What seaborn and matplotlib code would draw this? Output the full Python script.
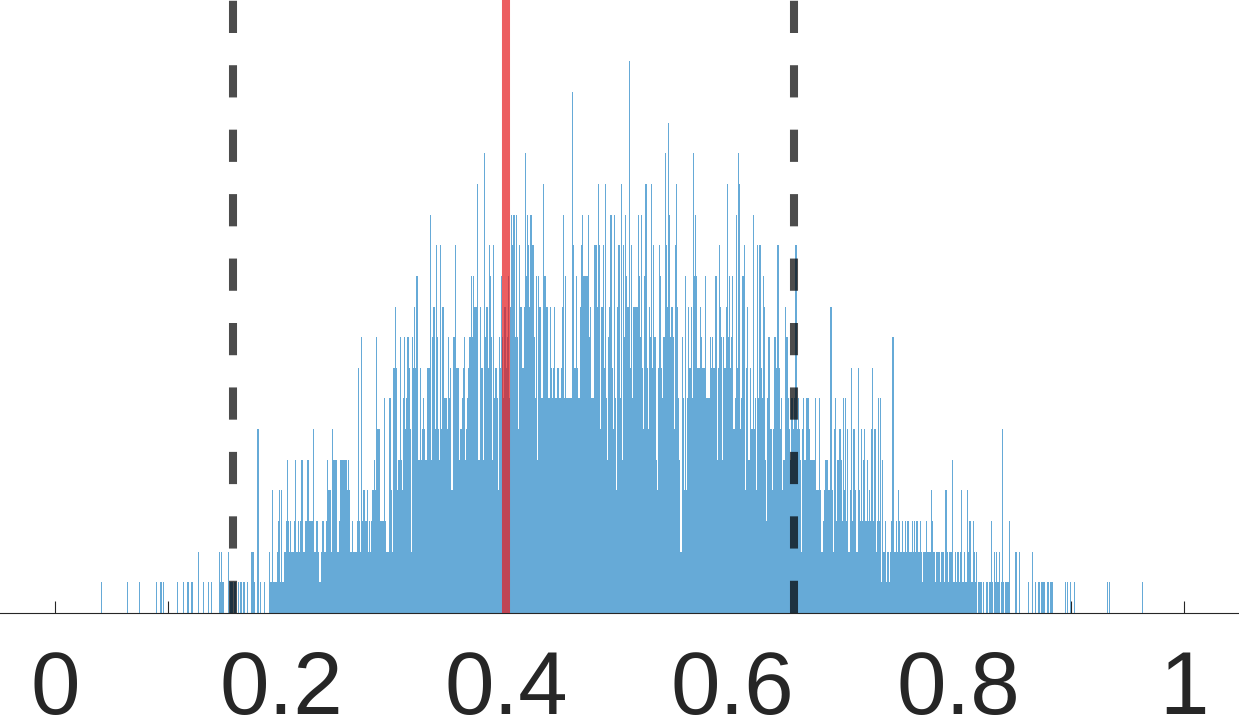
import numpy as np
import pandas as pd
import matplotlib
matplotlib.use("Agg")
import matplotlib.pyplot as plt
import seaborn as sns

# histogram counts, one value per 0.001-wide bin, split in 0.1 blocks
counts_00 = [0, 0, 0, 0, 0, 0, 0, 0, 0, 0, 0, 0, 0, 0, 0, 0, 0, 0, 0, 0,
             0, 0, 0, 0, 0, 0, 0, 0, 0, 0, 0, 0, 0, 0, 0, 0, 0, 0, 0, 0,
             1, 0, 0, 0, 0, 0, 0, 0, 0, 0, 0, 0, 0, 0, 0, 0, 0, 0, 0, 0,
             0, 0, 0, 1, 0, 0, 0, 0, 0, 0, 0, 0, 0, 0, 1, 0, 0, 0, 0, 0,
             0, 0, 0, 0, 0, 0, 0, 0, 0, 1, 0, 0, 0, 1, 0, 1, 0, 0, 0, 0]
counts_01 = [0, 0, 0, 0, 0, 0, 0, 0, 1, 0, 0, 0, 0, 1, 0, 0, 0, 1, 0, 0,
             1, 1, 0, 0, 0, 0, 2, 0, 0, 0, 0, 1, 0, 0, 0, 1, 0, 0, 1, 0,
             0, 0, 0, 0, 0, 2, 1, 2, 1, 0, 0, 0, 0, 2, 0, 1, 1, 0, 1, 1,
             0, 0, 1, 0, 1, 0, 1, 1, 0, 0, 1, 0, 0, 2, 2, 2, 1, 0, 0, 6,
             0, 1, 0, 0, 0, 1, 0, 0, 0, 2, 1, 1, 4, 1, 1, 1, 2, 3, 4, 1]
counts_02 = [4, 1, 1, 2, 3, 5, 3, 2, 3, 2, 2, 3, 5, 2, 2, 3, 2, 3, 5, 2,
             2, 3, 3, 5, 5, 3, 3, 3, 6, 2, 2, 3, 3, 2, 1, 2, 3, 3, 2, 2,
             3, 5, 4, 4, 2, 6, 5, 5, 5, 5, 2, 3, 5, 5, 5, 5, 5, 5, 4, 5,
             4, 2, 2, 3, 2, 2, 2, 3, 8, 3, 2, 9, 3, 4, 3, 3, 4, 2, 3, 2,
             3, 4, 5, 4, 9, 6, 6, 6, 3, 3, 3, 7, 3, 2, 2, 2, 7, 4, 2, 8]
counts_03 = [8, 10, 8, 4, 5, 9, 5, 4, 7, 9, 6, 7, 9, 8, 6, 2, 9, 8, 10, 8,
             11, 5, 5, 8, 5, 6, 7, 6, 5, 8, 8, 8, 13, 5, 9, 10, 6, 12, 9, 6,
             5, 12, 6, 10, 7, 7, 7, 6, 9, 7, 8, 4, 9, 9, 12, 8, 8, 8, 5, 6,
             7, 8, 9, 5, 6, 7, 8, 9, 11, 9, 11, 10, 10, 10, 14, 5, 10, 8, 8, 5,
             15, 9, 10, 8, 12, 11, 9, 5, 12, 7, 8, 7, 4, 9, 8, 11, 9, 7, 10, 8]
counts_04 = [9, 11, 7, 10, 13, 12, 13, 9, 13, 9, 6, 12, 10, 10, 8, 10, 15, 11, 13, 12,
             10, 13, 12, 12, 9, 7, 11, 5, 11, 10, 7, 7, 14, 11, 11, 10, 10, 7, 10, 8,
             7, 8, 10, 7, 7, 8, 7, 7, 8, 10, 13, 7, 11, 7, 7, 7, 7, 7, 17, 12,
             8, 11, 8, 7, 7, 10, 12, 13, 11, 11, 11, 11, 13, 9, 10, 7, 7, 12, 12, 12,
             10, 14, 12, 6, 10, 12, 8, 14, 7, 5, 9, 10, 13, 8, 6, 13, 7, 4, 10, 12]
counts_05 = [7, 14, 5, 12, 9, 13, 11, 10, 18, 8, 12, 7, 10, 10, 10, 10, 13, 11, 9, 13,
             8, 6, 11, 14, 8, 6, 10, 9, 14, 8, 12, 9, 5, 4, 8, 12, 11, 8, 7, 9,
             15, 12, 10, 16, 13, 9, 10, 9, 6, 12, 14, 10, 7, 5, 2, 9, 7, 4, 11, 4,
             7, 10, 8, 10, 7, 15, 11, 13, 11, 8, 8, 10, 9, 8, 8, 8, 11, 7, 7, 7,
             9, 8, 9, 8, 8, 11, 5, 8, 12, 10, 9, 5, 9, 8, 10, 14, 9, 11, 8, 9]
counts_06 = [11, 6, 7, 13, 8, 15, 14, 6, 7, 11, 12, 4, 8, 10, 5, 5, 8, 6, 13, 6,
             7, 4, 12, 7, 12, 8, 7, 11, 10, 5, 3, 7, 9, 6, 6, 4, 6, 9, 9, 8,
             12, 8, 6, 7, 4, 5, 5, 10, 9, 7, 6, 5, 7, 7, 6, 7, 12, 6, 7, 6,
             5, 2, 6, 7, 5, 7, 7, 7, 6, 5, 5, 5, 5, 7, 4, 4, 4, 7, 4, 2,
             3, 4, 5, 5, 5, 4, 4, 10, 4, 2, 6, 7, 3, 5, 5, 6, 5, 3, 7, 4]
counts_07 = [7, 3, 6, 2, 4, 8, 3, 6, 6, 4, 2, 8, 4, 3, 6, 3, 5, 6, 3, 5,
             3, 4, 3, 6, 8, 3, 6, 2, 3, 7, 3, 7, 1, 5, 2, 3, 1, 2, 2, 1,
             2, 3, 9, 2, 2, 3, 2, 4, 3, 2, 3, 2, 2, 3, 2, 3, 3, 2, 2, 3,
             2, 3, 2, 3, 3, 2, 3, 2, 1, 2, 2, 2, 3, 2, 2, 2, 4, 3, 2, 2,
             1, 2, 2, 2, 1, 2, 2, 2, 1, 4, 2, 1, 2, 2, 2, 5, 1, 2, 1, 2]
counts_08 = [2, 1, 2, 4, 1, 2, 1, 1, 4, 2, 3, 3, 1, 3, 2, 1, 2, 0, 1, 1,
             1, 0, 1, 0, 0, 1, 1, 0, 1, 3, 1, 0, 2, 1, 2, 1, 2, 0, 1, 6,
             1, 0, 1, 1, 1, 3, 0, 0, 0, 0, 0, 2, 0, 0, 2, 0, 0, 0, 0, 0,
             0, 0, 1, 0, 0, 0, 2, 0, 1, 0, 0, 1, 1, 0, 1, 1, 1, 0, 0, 1,
             1, 0, 1, 1, 0, 0, 0, 0, 0, 0, 0, 0, 0, 0, 0, 1, 0, 1, 0, 1]
counts_09 = [0, 0, 0, 1, 0, 0, 0, 0, 0, 0, 0, 0, 0, 0, 0, 0, 0, 0, 0, 0,
             0, 0, 0, 0, 0, 0, 0, 0, 0, 0, 0, 0, 1, 0, 1, 0, 0, 0, 0, 0,
             0, 0, 0, 0, 0, 0, 0, 0, 0, 0, 0, 0, 0, 0, 0, 0, 0, 0, 0, 0,
             0, 0, 0, 1, 0, 0, 0, 0, 0, 0, 0, 0, 0, 0, 0, 0, 0, 0, 0, 0,
             0, 0, 0, 0, 0, 0, 0, 0, 0, 0, 0, 0, 0, 0, 0, 0, 0, 0, 0, 0]

bin_width = 0.001
mean_value = 0.399
interval = [0.157, 0.655]
tick_values = [0, 0.1, 0.2, 0.3, 0.4, 0.5, 0.6, 0.7, 0.8, 0.9, 1.0]
tick_labels = ["0", "", "0.2", "", "0.4", "", "0.6", "", "0.8", "", "1"]

BLUE = "#66AAD7"
TEXT = "#262626"

sns.set_style("white")
plt.rcParams["font.family"] = ["Liberation Sans", "DejaVu Sans"]

counts = (counts_00 + counts_01 + counts_02 + counts_03 + counts_04 +
          counts_05 + counts_06 + counts_07 + counts_08 + counts_09)
centers = [(i + 0.5) * bin_width for i in range(len(counts))]
hist_df = pd.DataFrame({"value": centers, "count": counts})

fig = plt.figure(figsize=(12.39, 7.22), dpi=100)
ax = fig.add_axes([0, 109 / 722, 1, 613 / 722])

sns.histplot(data=hist_df, x="value", weights="count", binwidth=bin_width,
             binrange=(0, len(counts) * bin_width), color=BLUE, alpha=1,
             edgecolor="none", linewidth=0, ax=ax)

# mean and interval markers
ax.axvline(mean_value, color="#E41A1C", alpha=0.7, lw=5.8, zorder=3)
for v in interval:
    ax.axvline(v, color="black", alpha=0.7, lw=5.8, dashes=(4, 4), zorder=3)

ax.set_xlim(-0.0492, 1.0492)
ax.set_ylim(0, 20)
ax.set_xticks(tick_values)
ax.set_xticklabels(tick_labels)
ax.set_yticks([])
ax.set_xlabel("")
ax.set_ylabel("")
for side in ["left", "right", "top"]:
    ax.spines[side].set_visible(False)
ax.spines["bottom"].set_color(TEXT)
ax.spines["bottom"].set_linewidth(0.8)
ax.tick_params(axis="x", bottom=True, direction="in", length=8.9, width=0.8,
               color=TEXT, labelsize=64, labelcolor=TEXT, pad=26)

fig.savefig("out.png", dpi=100)
